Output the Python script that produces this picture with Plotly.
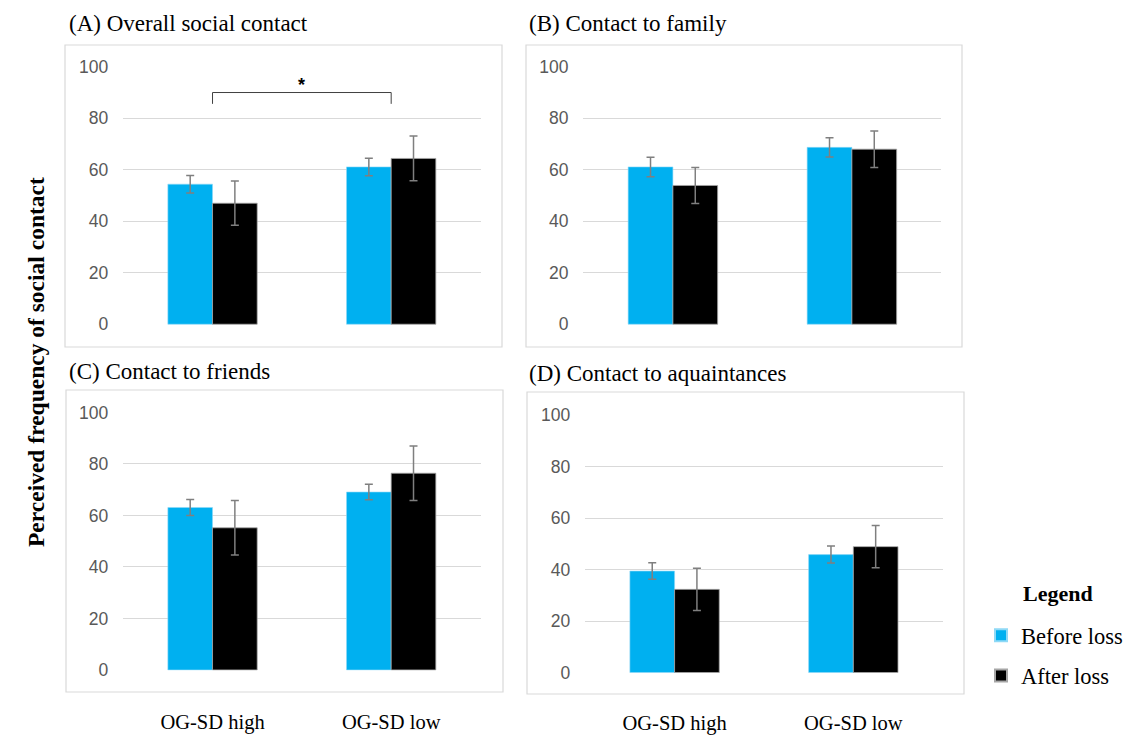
import plotly.graph_objects as go

# ---- data -------------------------------------------------------------
groups = ["OG-SD high", "OG-SD low"]
panel_titles = [
    "(A) Overall social contact",
    "(B) Contact to family",
    "(C) Contact to friends",
    "(D) Contact to aquaintances",
]

before_overall = [54.4, 61.1]
before_overall_err = [3.4, 3.4]
after_overall = [47.0, 64.4]
after_overall_err = [8.6, 8.7]

before_family = [61.1, 68.7]
before_family_err = [3.8, 3.7]
after_family = [53.9, 68.0]
after_family_err = [7.0, 7.1]

before_friends = [63.1, 69.1]
before_friends_err = [3.1, 3.0]
after_friends = [55.2, 76.4]
after_friends_err = [10.6, 10.6]

before_acq = [39.4, 45.8]
before_acq_err = [3.2, 3.3]
after_acq = [32.3, 48.9]
after_acq_err = [8.2, 8.2]

y_ticks = [0, 20, 40, 60, 80, 100]

panels = [
    (before_overall, before_overall_err, after_overall, after_overall_err),
    (before_family, before_family_err, after_family, after_family_err),
    (before_friends, before_friends_err, after_friends, after_friends_err),
    (before_acq, before_acq_err, after_acq, after_acq_err),
]

# ---- layout helpers (pixel -> paper) ---------------------------------
W, H = 1131, 735


def px(x):
    return x / W


def py(y):
    return 1 - y / H


BLUE = "#00B0F0"
BLACK = "#000000"
GRID = "#D9D9D9"
TICK = "#595959"
SERIF = "Liberation Serif, Times New Roman, serif"
SANS = "Liberation Sans, Arial, sans-serif"

# plot areas: (left, right, top, bottom) in pixels
areas = [
    (123.2, 480.5, 66.0, 325.0),
    (583.4, 941.4, 66.0, 325.0),
    (123.2, 480.5, 411.7, 670.7),
    (585.2, 942.7, 414.3, 673.3),
]
# surrounding frames
frames = [
    (65, 502, 45, 347),
    (526, 962, 45, 347),
    (66, 503, 390, 692),
    (527, 964, 392, 694),
]
title_pos = [(67, 24), (527, 24), (67, 371), (527, 373)]
# distance of the group labels below the bottom row of plots
label_standoff = [37, 37, 37, 35]

fig = go.Figure()

for i, (bm, be, am, ae) in enumerate(panels):
    n = "" if i == 0 else str(i + 1)
    xa, ya = "x" + n, "y" + n
    fig.add_trace(go.Bar(
        x=groups, y=bm, name="Before loss", xaxis=xa, yaxis=ya,
        marker=dict(color=BLUE, line=dict(color="#8FD9F6", width=0.6)),
        error_y=dict(type="data", array=be, color="#7F7F7F", thickness=1.5, width=4),
        legendgroup="before", showlegend=(i == 0),
    ))
    fig.add_trace(go.Bar(
        x=groups, y=am, name="After loss", xaxis=xa, yaxis=ya,
        marker=dict(color=BLACK, line=dict(color="#A6A6A6", width=0.8)),
        error_y=dict(type="data", array=ae, color="#7F7F7F", thickness=1.5, width=4),
        legendgroup="after", showlegend=(i == 0),
    ))

    l, r, t, b = areas[i]
    fig.layout["xaxis" + n] = dict(
        domain=[px(l), px(r)], anchor=ya, type="category",
        showgrid=False, zeroline=False, showline=False, ticks="",
        showticklabels=(i >= 2), ticklabelstandoff=label_standoff[i],
        automargin=False,
        tickfont=dict(family=SERIF, size=20.5, color="#000000"),
        fixedrange=True,
    )
    fig.layout["yaxis" + n] = dict(
        domain=[py(b), py(t)], anchor=xa, range=[-0.3, 100.3],
        tickvals=y_ticks, showgrid=True, gridcolor=GRID, gridwidth=1,
        zeroline=False, showline=False, ticks="", ticklabelstandoff=14,
        automargin=False,
        tickfont=dict(family=SANS, size=17.5, color=TICK),
        fixedrange=True,
    )

    fl, fr, ft, fb = frames[i]
    fig.add_shape(type="rect", xref="paper", yref="paper",
                  x0=px(fl), x1=px(fr), y0=py(fb), y1=py(ft),
                  line=dict(color=GRID, width=1.2), fillcolor="rgba(0,0,0,0)",
                  layer="below")

    tx, ty = title_pos[i]
    fig.add_annotation(text=panel_titles[i], xref="paper", yref="paper",
                       x=px(tx), y=py(ty), xanchor="left", yanchor="middle",
                       showarrow=False,
                       font=dict(family=SERIF, size=23, color="#000000"))

# significance bracket between the two groups in panel A
fig.add_trace(go.Scatter(
    x=[groups[0], groups[0], groups[1], groups[1]],
    y=[85.6, 90.0, 90.0, 85.6],
    mode="lines", line=dict(color="#404040", width=1),
    xaxis="x", yaxis="y", showlegend=False, hoverinfo="skip",
))
fig.add_annotation(text="<b>*</b>", x=0.5, y=92.8, xref="x", yref="y",
                   showarrow=False, font=dict(family=SANS, size=18, color="#000000"))

# shared y axis title
fig.add_annotation(text="<b>Perceived frequency of social contact</b>",
                   xref="paper", yref="paper", x=px(21), y=py(362),
                   textangle=-90, showarrow=False,
                   font=dict(family=SERIF, size=23.5, color="#000000"))

# legend heading
fig.add_annotation(text="<b>Legend</b>", xref="paper", yref="paper",
                   x=px(1021), y=py(593), xanchor="left", yanchor="middle",
                   showarrow=False, font=dict(family=SERIF, size=22, color="#000000"))

fig.update_layout(
    width=W, height=H,
    margin=dict(l=0, r=0, t=0, b=0, autoexpand=False),
    paper_bgcolor="white", plot_bgcolor="white",
    barmode="group", bargap=0.5, bargroupgap=0,
    legend=dict(
        x=px(981), y=py(614), xanchor="left", yanchor="top",
        font=dict(family=SERIF, size=22.5, color="#000000"),
        bgcolor="rgba(0,0,0,0)", tracegroupgap=8, itemsizing="constant",
        traceorder="grouped",
    ),
)

fig.write_html("out.html")
